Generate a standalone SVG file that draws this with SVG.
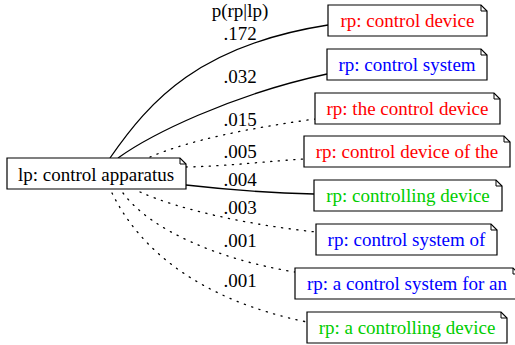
<svg xmlns="http://www.w3.org/2000/svg" width="515" height="345" viewBox="0 0 515 345">
<style>
.box{fill:#fff;stroke:#000;stroke-width:1.2}
.fold{fill:none;stroke:#000;stroke-width:1}
.t{font-family:"Liberation Serif","Times New Roman",serif;font-size:19px;text-anchor:middle}
.e{fill:none;stroke:#000;stroke-width:1.3}
.d{fill:none;stroke:#000;stroke-width:1.3;stroke-dasharray:1.2 6.5;stroke-linecap:round}
.r{fill:#ff0000}.b{fill:#0000ff}.g{fill:#00cd00}.k{fill:#000}
</style>
<rect width="515" height="345" fill="#fff"/>
<g id="edges">
<path class="e" d="M110,158 C150,100 200,45 328,25"/>
<path class="e" d="M118,158 C150,135 230,95 327,74"/>
<path class="d" d="M150,157 C190,140 250,128 315,119"/>
<path class="d" d="M186,167 C230,166 270,161 304,159"/>
<path class="e" d="M186,185 C230,190 270,193 314,194"/>
<path class="d" d="M140,192 C180,210 250,225 316,232"/>
<path class="d" d="M123,193 C150,230 220,260 295,272"/>
<path class="d" d="M112,193 C140,250 200,300 307,322"/>
<g class="t k">
<text x="240" y="17">p(rp|lp)</text>
<text x="240" y="39.5">.172</text>
<text x="240" y="83">.032</text>
<text x="240" y="126">.015</text>
<text x="240" y="158">.005</text>
<text x="240" y="186">.004</text>
<text x="240" y="214">.003</text>
<text x="240" y="247">.001</text>
<text x="240" y="287">.001</text>
</g>
</g>
<g id="lp">
<path class="box" d="M7,158 H180 L186,164 V189 H7 Z"/>
<path class="fold" d="M180,158 V164 H186"/>
<text class="t k" x="96" y="181">lp: control apparatus</text>
</g>
<g id="rp1">
<path class="box" d="M328,5 H481 L487,11 V36 H328 Z"/>
<path class="fold" d="M481,5 V11 H487"/>
<text class="t r" x="407.5" y="27">rp: control device</text>
</g>
<g id="rp2">
<path class="box" d="M327,49 H481 L487,55 V80 H327 Z"/>
<path class="fold" d="M481,49 V55 H487"/>
<text class="t b" x="407" y="71">rp: control system</text>
</g>
<g id="rp3">
<path class="box" d="M315,93 H494 L500,99 V124 H315 Z"/>
<path class="fold" d="M494,93 V99 H500"/>
<text class="t r" x="407.5" y="115">rp: the control device</text>
</g>
<g id="rp4">
<path class="box" d="M304,136 H504 L510,142 V167 H304 Z"/>
<path class="fold" d="M504,136 V142 H510"/>
<text class="t r" x="407" y="158">rp: control device of the</text>
</g>
<g id="rp5">
<path class="box" d="M314,180 H496 L502,186 V211 H314 Z"/>
<path class="fold" d="M496,180 V186 H502"/>
<text class="t g" x="408" y="202">rp: controlling device</text>
</g>
<g id="rp6">
<path class="box" d="M316,224 H491 L497,230 V255 H316 Z"/>
<path class="fold" d="M491,224 V230 H497"/>
<text class="t b" x="406.5" y="246">rp: control system of</text>
</g>
<g id="rp7">
<path class="box" d="M295,268 H513 L519,274 V299 H295 Z"/>
<path class="fold" d="M513,268 V274 H519"/>
<text class="t b" x="407" y="290">rp: a control system for an</text>
</g>
<g id="rp8">
<path class="box" d="M307,312 H501 L507,318 V343 H307 Z"/>
<path class="fold" d="M501,312 V318 H507"/>
<text class="t g" x="407" y="334">rp: a controlling device</text>
</g>
</svg>
